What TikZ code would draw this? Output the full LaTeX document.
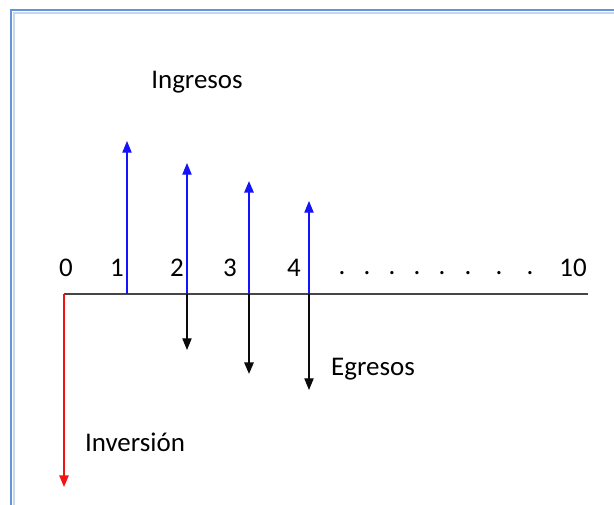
\documentclass[tikz,border=0pt]{standalone}
\usepackage{fontspec}
\setmainfont{Carlito}
\usetikzlibrary{arrows.meta, positioning}
\definecolor{ingblue}{RGB}{20,20,250}
\definecolor{egblack}{RGB}{10,10,10}
\definecolor{invred}{RGB}{240,20,20}
\definecolor{axisgray}{RGB}{70,70,70}
\definecolor{framedark}{RGB}{100,150,215}
\definecolor{framelight}{RGB}{195,215,240}

\begin{document}
\begin{tikzpicture}[x=0.03cm, y=-0.03cm,
  lbl/.style={font=\fontsize{23}{27}\selectfont, inner sep=0pt},
  tip/.style={-{Triangle[width=8, length=10]}},
  ing/.style={tip, ingblue, line width=0.9pt},
  egr/.style={tip, egblack, line width=0.9pt}]
  \useasboundingbox (0,0) rectangle (614,505);
  % frame
  \draw[framedark, line width=2pt] (11,505) -- (11,10) -- (614,10);
  \draw[framelight, line width=2pt] (14,505) -- (14,13) -- (614,13);
  % axis
  \coordinate (o) at (64,294);
  \coordinate (fin) at (588,294);
  \draw[axisgray, line width=0.9pt] (o) -- (fin);
  % period labels
  \node[lbl] (t0) at (66,268) {0};
  \node[lbl] (t1) at (117,268) {1};
  \node[lbl] (t2) at (177,268) {2};
  \node[lbl] (t3) at (230,268) {3};
  \node[lbl] (t4) at (294,268) {4};
  \node[lbl] (t10) at (573,268) {10};
  \foreach \x in {342,367,392,417,442,468,499,530}
    \node[lbl] at (\x,273) {.};
  % ingresos
  \coordinate (b1) at (127,294); \coordinate (u1) at (127,141);
  \coordinate (b2) at (187,294); \coordinate (u2) at (187,163);
  \coordinate (b3) at (249,294); \coordinate (u3) at (249,181);
  \coordinate (b4) at (309,294); \coordinate (u4) at (309,201);
  \draw[ing] (b1) -- (u1);
  \draw[ing] (b2) -- (u2);
  \draw[ing, line width=1.8pt] (b3) -- (u3);
  \draw[ing] (b4) -- (u4);
  % egresos
  \coordinate (d2) at (187,350);
  \coordinate (d3) at (249,374);
  \coordinate (d4) at (309,390);
  \draw[egr] (b2) -- (d2);
  \draw[egr, line width=1.8pt] (b3) -- (d3);
  \draw[egr] (b4) -- (d4);
  % inversion
  \coordinate (d0) at (64,487);
  \draw[tip, invred, line width=1.3pt] (o) -- (d0);
  % texts
  \node[lbl] (ingresos) at (197,82) {Ingresos};
  \node[lbl] (egresos) at (373,369) {Egresos};
  \node[lbl] (inversion) at (135,442) {Inversión};
\end{tikzpicture}
\end{document}
